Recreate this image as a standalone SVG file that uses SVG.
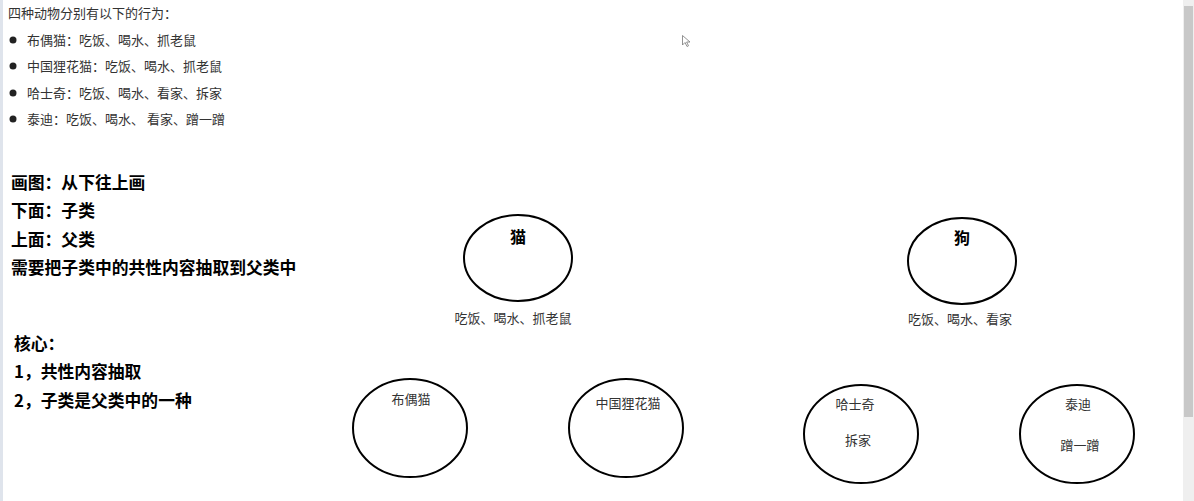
<svg xmlns="http://www.w3.org/2000/svg" width="1194" height="501" viewBox="0 0 1194 501">
<style>
text{font-family:"Noto Sans CJK SC","Noto Sans",sans-serif}
.t{font-size:13px;fill:#333}
.b{font-size:16.8px;font-weight:bold;fill:#000}
.n{fill:none;stroke:#000;stroke-width:2}
.nl{font-size:13px;fill:#333;text-anchor:middle}
.nb{font-size:16px;font-weight:bold;fill:#000;text-anchor:middle}
</style>
<rect width="1194" height="501" fill="#fff"/>
<rect x="0" y="0" width="3" height="501" fill="#dfe4ec"/>
<rect x="1183" y="0" width="11" height="501" fill="#efefef"/>
<rect x="1184" y="6" width="9" height="411" fill="#c8c8c8"/>
<g id="notes">
<text class="t" x="8" y="18">四种动物分别有以下的行为：</text>
<circle cx="13" cy="40" r="3.5" fill="#222"/>
<text class="t" x="27" y="45">布偶猫：吃饭、喝水、抓老鼠</text>
<circle cx="13" cy="66" r="3.5" fill="#222"/>
<text class="t" x="27" y="71">中国狸花猫：吃饭、喝水、抓老鼠</text>
<circle cx="13" cy="93" r="3.5" fill="#222"/>
<text class="t" x="27" y="98">哈士奇：吃饭、喝水、看家、拆家</text>
<circle cx="13" cy="119" r="3.5" fill="#222"/>
<text class="t" x="27" y="124">泰迪：吃饭、喝水、 看家、蹭一蹭</text>
<text class="b" x="11" y="189">画图：从下往上画</text>
<text class="b" x="11" y="217">下面：子类</text>
<text class="b" x="11" y="246">上面：父类</text>
<text class="b" x="11" y="274">需要把子类中的共性内容抽取到父类中</text>
<text class="b" x="14" y="350">核心：</text>
<text class="b" x="14" y="378">1，共性内容抽取</text>
<text class="b" x="14" y="407">2，子类是父类中的一种</text>
</g>
<g id="node-cat">
<ellipse class="n" cx="518" cy="258" rx="54" ry="43"/>
<text class="nb" x="518" y="243">猫</text>
<text class="nl" x="513" y="323">吃饭、喝水、抓老鼠</text>
</g>
<g id="node-dog">
<ellipse class="n" cx="962" cy="261" rx="54" ry="43"/>
<text class="nb" x="962" y="244">狗</text>
<text class="nl" x="960" y="324">吃饭、喝水、看家</text>
</g>
<g id="node-ragdoll">
<ellipse class="n" cx="410" cy="428" rx="57" ry="49"/>
<text class="nl" x="411" y="404">布偶猫</text>
</g>
<g id="node-lihua">
<ellipse class="n" cx="626" cy="428" rx="57" ry="49"/>
<text class="nl" x="628" y="408">中国狸花猫</text>
</g>
<g id="node-husky">
<ellipse class="n" cx="861" cy="434" rx="57" ry="49"/>
<text class="nl" x="855" y="409">哈士奇</text>
<text class="nl" x="858" y="445">拆家</text>
</g>
<g id="node-teddy">
<ellipse class="n" cx="1077" cy="434" rx="57" ry="49"/>
<text class="nl" x="1078" y="409">泰迪</text>
<text class="nl" x="1080" y="450">蹭一蹭</text>
</g>
<g id="connectors"></g>
<path d="M682.5 35.5 L682.5 45 L685 42.5 L687 46.5 L688.5 45.8 L686.6 42 L690 42 Z" fill="#fff" stroke="#777" stroke-width="0.8"/>
</svg>
